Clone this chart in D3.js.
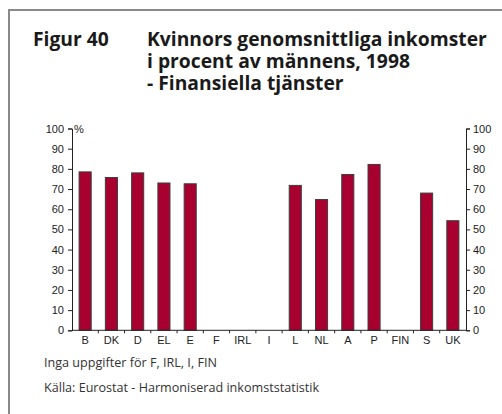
<!DOCTYPE html>
<html>
<head>
<meta charset="utf-8">
<script src="https://cdn.jsdelivr.net/npm/d3@7"></script>
<style>
  html, body { margin: 0; padding: 0; background: #fff; }
  svg { display: block; }
</style>
</head>
<body>
<svg id="chart" width="502" height="414"></svg>
<script>
// Women's average income as % of men's, financial services, 1998
const countries = ["B", "DK", "D", "EL", "E", "F", "IRL", "I", "L", "NL", "A", "P", "FIN", "S", "UK"];
const values = [78.5, 75.7, 78, 73, 72.6, null, null, null, 71.8, 64.8, 77.2, 82.2, null, 68, 54.3];
const yTicks = [0, 10, 20, 30, 40, 50, 60, 70, 80, 90, 100];
const titleLines = ["Kvinnors genomsnittliga inkomster", "i procent av männens, 1998", "- Finansiella tjänster"];

const svg = d3.select("#chart");
const titleFont = "'Open Sans', 'DejaVu Sans', sans-serif";
const axisFont = "'Liberation Sans', Arial, sans-serif";

// frame (top and left edges)
svg.append("path")
  .attr("d", "M9,414 L9,10 L502,10")
  .attr("fill", "none").attr("stroke", "#8a8a8a").attr("stroke-width", 2);

// title block
svg.append("text").attr("x", 33).attr("y", 46)
  .attr("font-family", titleFont).attr("font-weight", "bold").attr("font-size", 19.3)
  .attr("fill", "#1a1a1a").text("Figur 40");
svg.append("g").selectAll("text").data(titleLines).join("text")
  .attr("x", 147).attr("y", (d, i) => 46 + i * 22)
  .attr("font-family", titleFont).attr("font-weight", "bold").attr("font-size", 19.3)
  .attr("fill", "#1a1a1a").text(d => d);

const plotLeft = 72, plotRight = 466, plotTop = 128.5, plotBottom = 330.3;

const x = d3.scaleBand().domain(countries).range([plotLeft, plotRight]).paddingInner(0.54).paddingOuter(0.27);
const xBand = d3.scaleBand().domain(countries).range([plotLeft, plotRight]);
const y = d3.scaleLinear().domain([0, 100]).range([plotBottom, plotTop]);

// bars
svg.append("g").selectAll("rect")
  .data(countries.map((c, i) => ({ c, v: values[i] })).filter(d => d.v != null))
  .join("rect")
  .attr("x", d => x(d.c))
  .attr("y", d => y(d.v))
  .attr("width", x.bandwidth())
  .attr("height", d => plotBottom - y(d.v))
  .attr("fill", "#a8002f")
  .attr("stroke", "#3d3d3d").attr("stroke-width", 1);

// left and right value axes
const yAxisL = svg.append("g").attr("transform", `translate(${plotLeft},0)`)
  .call(d3.axisLeft(y).tickValues(yTicks).tickSize(4).tickPadding(4));
const yAxisR = svg.append("g").attr("transform", `translate(${plotRight},0)`)
  .call(d3.axisRight(y).tickValues(yTicks).tickSize(4).tickPadding(3));
[yAxisL, yAxisR].forEach(g => {
  g.select(".domain").attr("stroke", "#222");
  g.selectAll(".tick line").attr("stroke", "#222");
  g.selectAll(".tick text").attr("font-family", axisFont).attr("font-size", 11).attr("fill", "#222");
});

// x axis baseline with ticks between countries
svg.append("line").attr("x1", plotLeft).attr("x2", plotRight).attr("y1", plotBottom).attr("y2", plotBottom)
  .attr("stroke", "#222");
svg.append("g").selectAll("line").data(countries.slice(1)).join("line")
  .attr("x1", d => xBand(d)).attr("x2", d => xBand(d))
  .attr("y1", plotBottom).attr("y2", plotBottom + 3)
  .attr("stroke", "#222");
svg.append("g").selectAll("text").data(countries).join("text")
  .attr("x", d => xBand(d) + xBand.bandwidth() / 2)
  .attr("y", plotBottom + 14)
  .attr("text-anchor", "middle")
  .attr("font-family", axisFont).attr("font-size", 11).attr("fill", "#222")
  .text(d => d);

// unit label
svg.append("text").attr("x", plotLeft + 2).attr("y", plotTop + 4)
  .attr("font-family", axisFont).attr("font-size", 11).attr("fill", "#222").text("%");

// notes
svg.append("text").attr("x", 44).attr("y", 367)
  .attr("font-family", titleFont).attr("font-size", 12.6).attr("fill", "#333")
  .text("Inga uppgifter för F, IRL, I, FIN");
svg.append("text").attr("x", 44).attr("y", 392)
  .attr("font-family", titleFont).attr("font-size", 12.6).attr("fill", "#333")
  .text("Källa: Eurostat - Harmoniserad inkomststatistik");
</script>
</body>
</html>
